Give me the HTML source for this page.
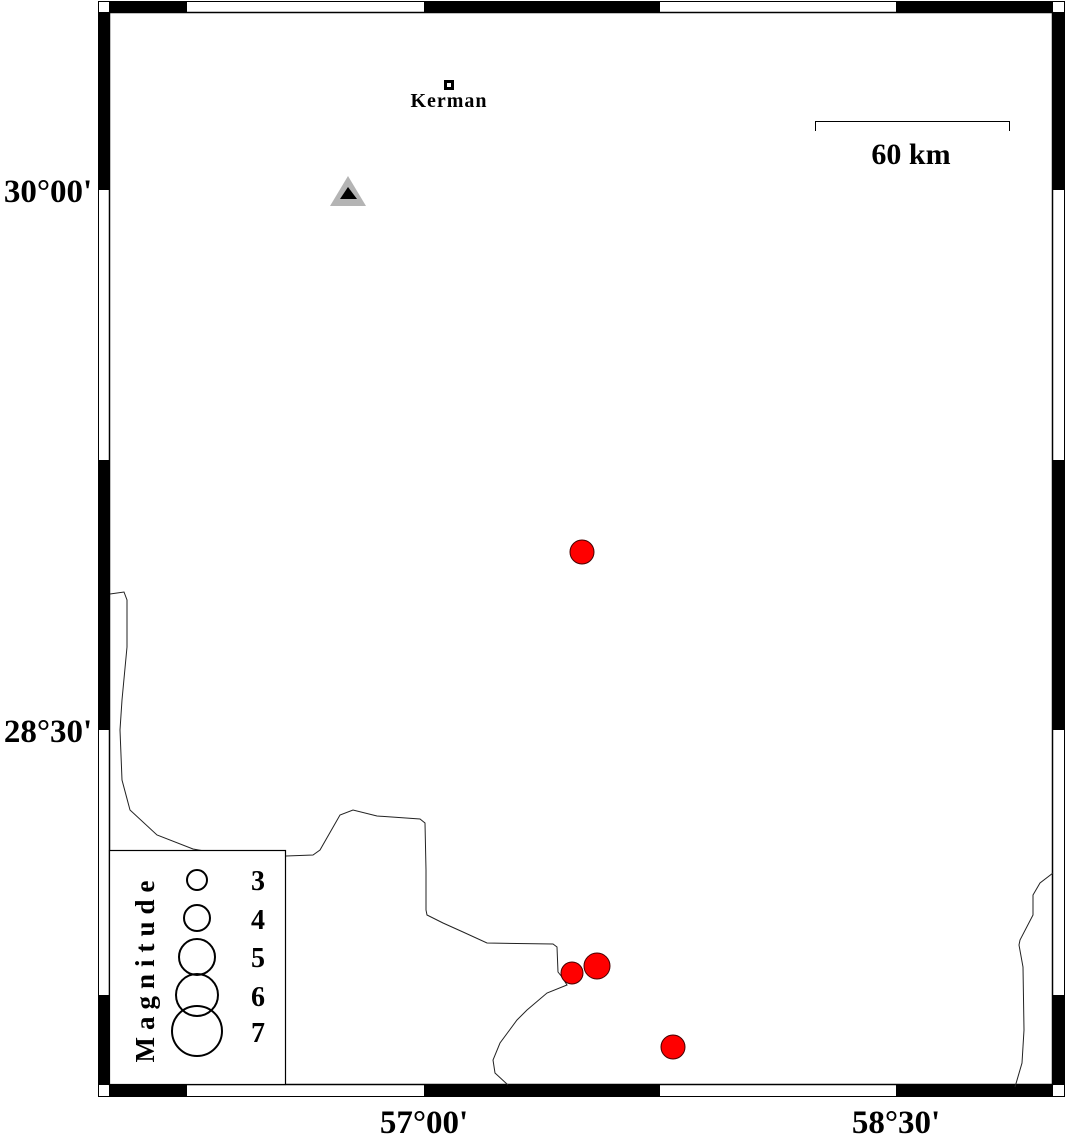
<!DOCTYPE html>
<html><head><meta charset="utf-8"><style>
html,body{margin:0;padding:0;background:#fff;}
svg{display:block;}
text{font-family:"Liberation Serif",serif;font-weight:bold;fill:#000;}
</style></head><body>
<svg width="1066" height="1135" viewBox="0 0 1066 1135" xmlns="http://www.w3.org/2000/svg">
<rect x="0" y="0" width="1066" height="1135" fill="#fff"/>
<rect x="98.5" y="1.5" width="966" height="1095" fill="#fff" stroke="#000" stroke-width="1"/>
<g fill="#000">
<rect x="109" y="1" width="78" height="11"/>
<rect x="424" y="1" width="236" height="11"/>
<rect x="896" y="1" width="157" height="11"/>
<rect x="109" y="1085" width="78" height="11"/>
<rect x="424" y="1085" width="236" height="11"/>
<rect x="896" y="1085" width="157" height="11"/>
<rect x="98" y="12" width="11" height="178"/>
<rect x="98" y="460" width="11" height="270"/>
<rect x="98" y="995" width="11" height="90"/>
<rect x="1053" y="12" width="11" height="178"/>
<rect x="1053" y="460" width="11" height="270"/>
<rect x="1053" y="995" width="11" height="90"/>
</g>
<rect x="109.5" y="12.5" width="943" height="1072" fill="none" stroke="#000" stroke-width="1.5"/>
<g fill="none" stroke="#222" stroke-width="1">
<path d="M110,594 L124,592 L127,600 L127,647 L122,700 L120,730 L122,780 L130,810 L157,835 L193,849 L210,852 M286,856 L313,855 L320,850 L340,815 L353,810 L377,816 L420,819 L425,823 L426,870 L426,910 L427,915 L443,923 L463,932 L487,943 L553,944 L557,947 L558,972 L562,977 L567,985 L547,993 L527,1010 L517,1020 L500,1043 L493,1060 L495,1073 L508,1085"/>
<path d="M1053,873 L1040,883 L1033,895 L1033,915 L1020,940 L1019,945 L1023,967 L1024,1030 L1022,1063 L1015,1087"/>
</g>
<rect x="109.5" y="850.5" width="176" height="234" fill="#fff" stroke="#000" stroke-width="1.2"/>
<text transform="translate(154,968) rotate(-90)" font-size="27" text-anchor="middle" letter-spacing="7">Magnitude</text>
<g fill="none" stroke="#000" stroke-width="2">
<circle cx="197" cy="880" r="10"/>
<circle cx="197" cy="918" r="13"/>
<circle cx="197" cy="957" r="18"/>
<circle cx="197" cy="995" r="21"/>
<circle cx="197" cy="1031" r="25"/>
</g>
<g font-size="28" text-anchor="middle">
<text x="258" y="890">3</text>
<text x="258" y="929">4</text>
<text x="258" y="967">5</text>
<text x="258" y="1006">6</text>
<text x="258" y="1042">7</text>
</g>
<g fill="#f00" stroke="#400" stroke-width="1">
<circle cx="582" cy="552" r="12"/>
<circle cx="572" cy="973" r="11"/>
<circle cx="597" cy="966" r="13"/>
<circle cx="673" cy="1047" r="12"/>
</g>
<polygon points="330,206 366,206 348,176" fill="#b4b4b4"/>
<polygon points="340,199 357,199 348,187" fill="#000"/>
<rect x="444" y="80" width="10" height="10" fill="#000"/>
<rect x="447" y="83" width="4" height="4" fill="#fff"/>
<text x="449" y="107" font-size="20" text-anchor="middle" letter-spacing="1">Kerman</text>
<path d="M815.5,131 L815.5,121.5 L1009.5,121.5 L1009.5,131" fill="none" stroke="#000" stroke-width="1"/>
<text x="911" y="164" font-size="30" text-anchor="middle">60 km</text>
<g font-size="33">
<text x="48" y="202" text-anchor="middle">30°00'</text>
<text x="48" y="742" text-anchor="middle">28°30'</text>
<text x="424" y="1133" text-anchor="middle">57°00'</text>
<text x="896" y="1133" text-anchor="middle">58°30'</text>
</g>
</svg>
</body></html>
